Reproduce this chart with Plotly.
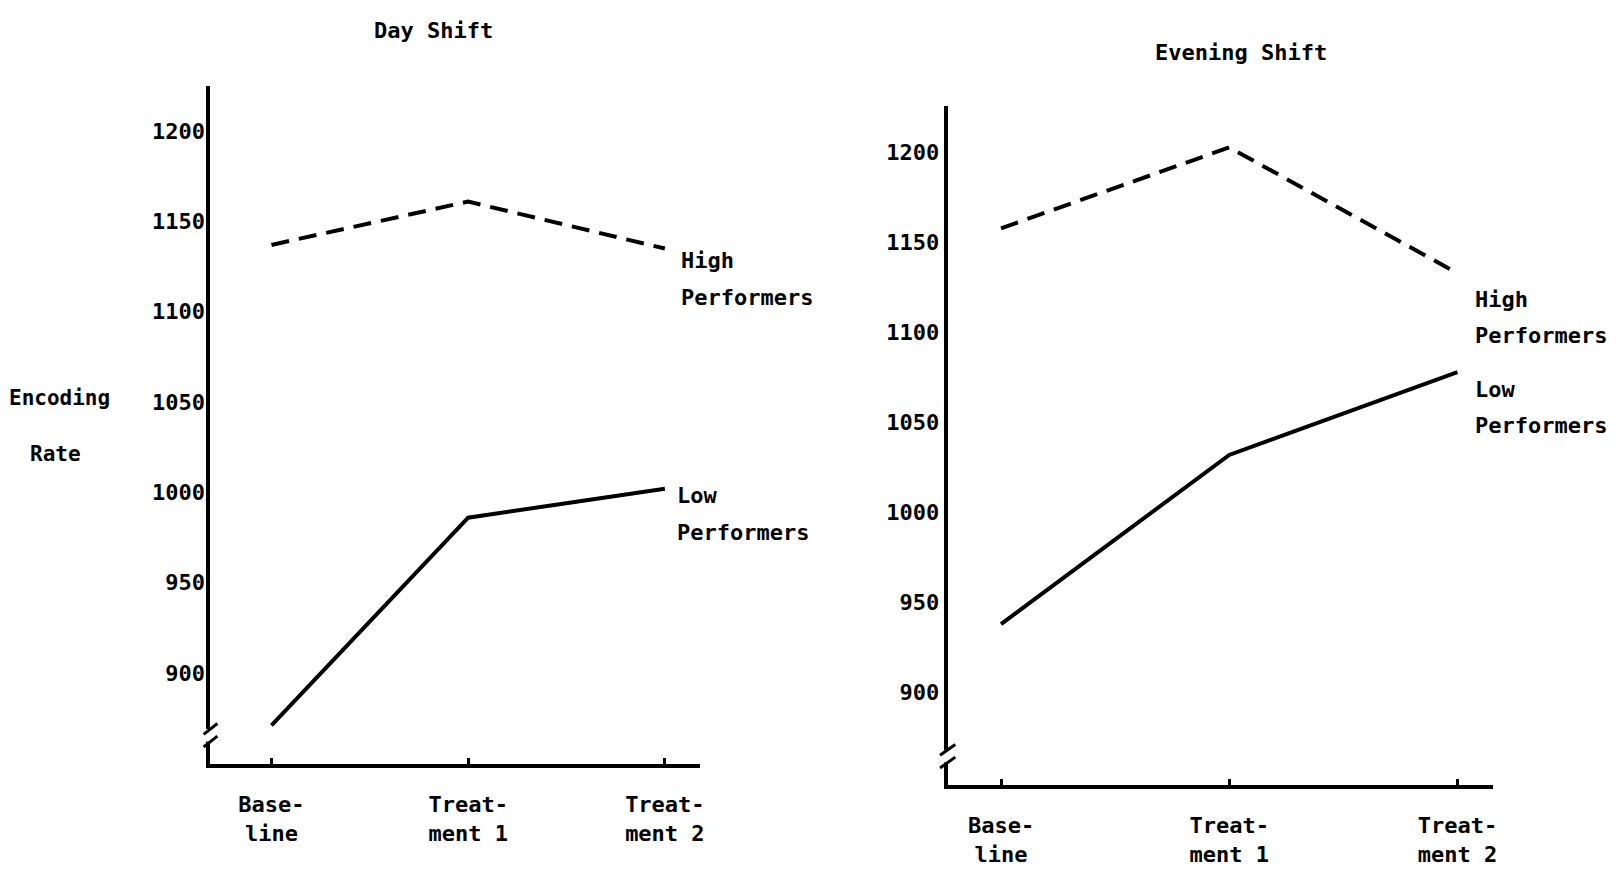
import plotly.graph_objects as go

# ---- data ----
categories = ["Base-<br>line", "Treat-<br>ment 1", "Treat-<br>ment 2"]
y_ticks = [900, 950, 1000, 1050, 1100, 1150, 1200]
day_high = [1137, 1161, 1135]
day_low = [871, 986, 1002]
eve_high = [1158, 1203, 1133]
eve_low = [938, 1032, 1078]

# page has an 8px body margin: size figure to fit and offset targets
OFF = 8
W, H = 1619 - 2 * OFF, 886 - 2 * OFF
FONT = "DejaVu Sans Mono"
xs = list(range(len(categories)))


def px(x):
    return (x - OFF) / W


def py(y):
    return 1 - (y - OFF) / H


fig = go.Figure()

line_solid = dict(color="black", width=4)
line_dash = dict(color="black", width=4, dash="18px,10px")

fig.add_trace(go.Scatter(x=xs, y=day_high, mode="lines", line=line_dash, xaxis="x", yaxis="y", showlegend=False))
fig.add_trace(go.Scatter(x=xs, y=day_low, mode="lines", line=line_solid, xaxis="x", yaxis="y", showlegend=False))
fig.add_trace(go.Scatter(x=xs, y=eve_high, mode="lines", line=line_dash, xaxis="x2", yaxis="y2", showlegend=False))
fig.add_trace(go.Scatter(x=xs, y=eve_low, mode="lines", line=line_solid, xaxis="x2", yaxis="y2", showlegend=False))

tf = dict(family=FONT, size=22, color="black", weight="bold")


def xax(domain, rng, anchor):
    return dict(domain=domain, range=rng, anchor=anchor, showgrid=False, zeroline=False,
                showline=True, linecolor="black", linewidth=4,
                tickmode="array", tickvals=xs, ticktext=categories,
                ticks="inside", ticklen=6, tickwidth=3, tickcolor="black",
                ticklabelstandoff=18, tickfont=tf)


def yax(domain, rng, anchor, standoff):
    return dict(domain=domain, range=rng, anchor=anchor, showgrid=False, zeroline=False,
                showline=True, linecolor="black", linewidth=4,
                tickmode="array", tickvals=y_ticks, ticks="",
                ticklabelstandoff=standoff, tickfont=tf)


fig.update_layout(
    width=W, height=H,
    margin=dict(l=0, r=0, t=0, b=0),
    paper_bgcolor="white", plot_bgcolor="white",
    font=tf,
    xaxis=xax([px(211), px(702)], [-0.31, 2.18], "y"),
    yaxis=yax([py(764), py(86)], [849.6, 1225], "x", -3),
    xaxis2=xax([px(950), px(1497)], [-0.234, 2.157], "y2"),
    yaxis2=yax([py(785), py(106)], [848.5, 1226], "x2", 0),
)

# axis breaks
shapes = []
for xr, yr, c in [("x domain", "y", 866), ("x2 domain", "y2", 865)]:
    shapes.append(dict(type="rect", xref=xr, yref=yr, x0=-0.02, x1=0.02, y0=c - 4, y1=c + 3,
                       fillcolor="white", line=dict(width=0), layer="above"))
    for d in (-4, 3):
        shapes.append(dict(type="line", xref=xr, yref=yr, x0=-0.014, x1=0.014, y0=c + d - 3, y1=c + d + 3,
                           line=dict(color="black", width=3), layer="above"))
fig.update_layout(shapes=shapes)

ann = []


def paper_text(t, x, y, size=22):
    f = dict(tf)
    f["size"] = size
    ann.append(dict(text=t, x=px(x), y=py(y), xref="paper", yref="paper",
                    xanchor="center", yanchor="middle", showarrow=False, font=f))


paper_text("Day Shift", 435, 31)
paper_text("Evening Shift", 1244, 52)
paper_text("Encoding", 60, 398, 21)
paper_text("Rate", 56, 454, 21)

labels = [
    ("x", "y", 2.07, 1128.6, "High"),
    ("x", "y", 2.07, 1108.1, "Performers"),
    ("x", "y", 2.05, 998.2, "Low"),
    ("x", "y", 2.05, 977.6, "Performers"),
    ("x2", "y2", 2.07, 1118.6, "High"),
    ("x2", "y2", 2.07, 1098.4, "Performers"),
    ("x2", "y2", 2.07, 1068.6, "Low"),
    ("x2", "y2", 2.07, 1048.6, "Performers"),
]
for xr, yr, x, y, t in labels:
    ann.append(dict(text=t, x=x, y=y, xref=xr, yref=yr, xanchor="left", yanchor="middle",
                    align="left", showarrow=False, font=tf))
fig.update_layout(annotations=ann)

fig.write_html("out.html")
